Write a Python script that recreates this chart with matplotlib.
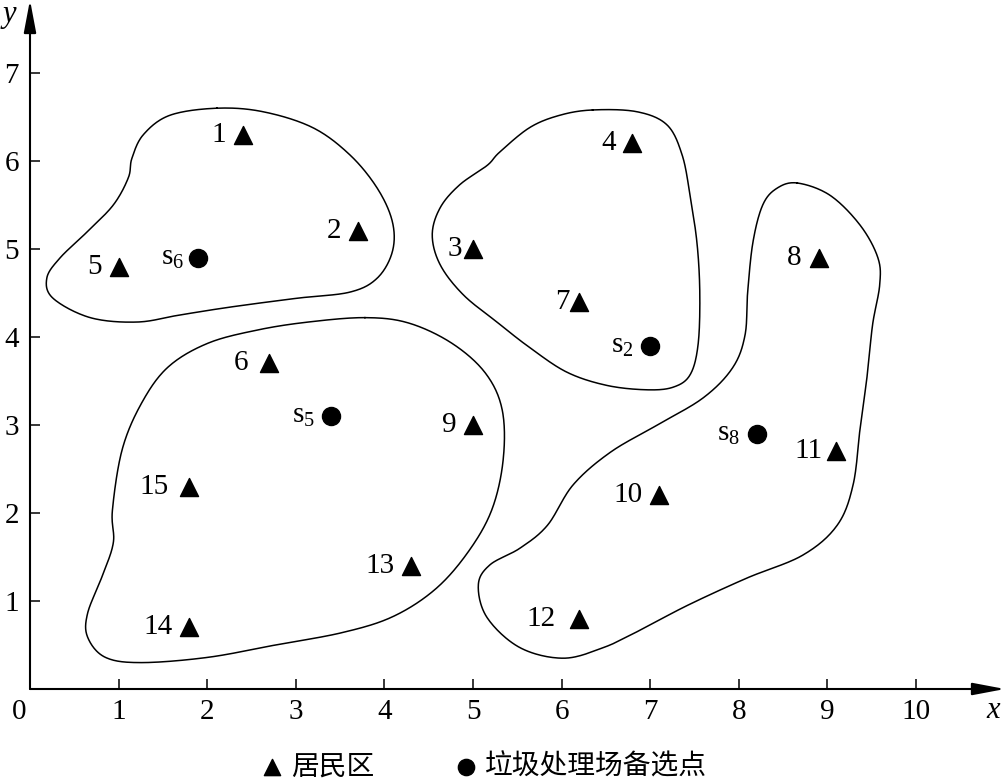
import numpy as np
import matplotlib
matplotlib.use('Agg')
import matplotlib.pyplot as plt

plt.rcParams['font.family'] = ['Liberation Serif', 'Noto Sans CJK SC', 'DejaVu Sans']
plt.rcParams['mathtext.fontset'] = 'custom'
plt.rcParams['mathtext.rm'] = 'Liberation Serif'
plt.rcParams['mathtext.it'] = 'Liberation Serif:italic'

# 居民区
res_labels = ['1', '2', '3', '4', '5', '6', '7', '8', '9', '10', '11', '12', '13', '14', '15']
res_x = [2.4, 3.7, 5.0, 6.8, 1.0, 2.7, 6.2, 8.9, 5.0, 7.1, 9.1, 6.2, 4.3, 1.8, 1.8]
res_y = [6.3, 5.2, 5.0, 6.2, 4.8, 3.7, 4.4, 4.9, 3.0, 2.2, 2.7, 0.8, 1.4, 0.7, 2.3]

# 垃圾处理场备选点
site_labels = ['2', '5', '6', '8']
site_x = [7.0, 3.4, 1.9, 8.2]
site_y = [3.9, 3.1, 4.9, 2.9]

# 分区轮廓 (控制点)
zone_a_x = [2.11, 2.63, 3.19, 3.61, 3.92, 4.09, 4.09, 3.92, 3.61, 3.01, 2.26, 1.69,
            1.21, 0.68, 0.26, 0.19, 0.34, 0.64, 0.94, 1.11, 1.15, 1.28, 1.58]
zone_a_y = [6.60, 6.56, 6.38, 6.07, 5.69, 5.31, 4.97, 4.67, 4.51, 4.44, 4.34, 4.25,
            4.17, 4.22, 4.44, 4.67, 4.90, 5.19, 5.50, 5.81, 6.03, 6.30, 6.52]
zone_b_x = [6.35, 6.85, 7.19, 7.36, 7.45, 7.53, 7.56, 7.54, 7.45, 7.26, 6.96, 6.51,
            6.06, 5.64, 5.27, 4.89, 4.63, 4.54, 4.63, 4.85, 5.16, 5.30, 5.64, 5.98]
zone_b_y = [6.58, 6.56, 6.41, 6.07, 5.61, 5.05, 4.48, 3.91, 3.57, 3.43, 3.40, 3.45,
            3.60, 3.88, 4.17, 4.48, 4.82, 5.16, 5.47, 5.73, 5.95, 6.10, 6.38, 6.52]
zone_c_x = [8.66, 9.03, 9.37, 9.57, 9.59, 9.51, 9.45, 9.37, 9.29, 9.11, 8.72, 8.09,
            7.42, 6.85, 6.47, 6.02, 5.53, 5.16, 5.06, 5.19, 5.53, 5.84, 6.13, 6.55,
            7.08, 7.60, 7.93, 8.07, 8.10, 8.16, 8.27, 8.43]
zone_c_y = [5.75, 5.61, 5.27, 4.90, 4.59, 4.14, 3.57, 2.97, 2.32, 1.86, 1.52, 1.26,
            0.95, 0.65, 0.47, 0.35, 0.47, 0.81, 1.18, 1.41, 1.60, 1.86, 2.32, 2.69,
            3.00, 3.31, 3.65, 4.02, 4.51, 5.08, 5.50, 5.69]
zone_d_x = [3.78, 4.27, 4.76, 5.14, 5.33, 5.34, 5.21, 4.94, 4.57, 4.09, 3.52, 2.77,
            2.01, 1.26, 0.85, 0.65, 0.65, 0.81, 0.94, 0.93, 1.04, 1.26, 1.56, 2.01,
            2.57, 3.14]
zone_d_y = [4.22, 4.16, 3.93, 3.59, 3.17, 2.60, 2.03, 1.55, 1.13, 0.82, 0.64, 0.50,
            0.36, 0.30, 0.36, 0.59, 0.86, 1.27, 1.66, 2.03, 2.72, 3.25, 3.66, 3.93,
            4.08, 4.17]

x_ticks = [1, 2, 3, 4, 5, 6, 7, 8, 9, 10]
y_ticks = [1, 2, 3, 4, 5, 6, 7]


# 闭合 Catmull-Rom 曲线
def closed_curve(xs, ys, n=24):
    P = np.column_stack([xs, ys])
    m = len(P)
    t = np.linspace(0, 1, n, endpoint=False)[:, None]
    segs = []
    for i in range(m):
        p0, p1, p2, p3 = P[i - 1], P[i], P[(i + 1) % m], P[(i + 2) % m]
        segs.append(0.5 * (2 * p1 + (-p0 + p2) * t
                           + (2 * p0 - 5 * p1 + 4 * p2 - p3) * t ** 2
                           + (-p0 + 3 * p1 - 3 * p2 + p3) * t ** 3))
    pts = np.vstack(segs + [segs[0][:1]])
    return pts[:, 0], pts[:, 1]


fig = plt.figure(figsize=(10.07, 7.84), dpi=100)
ax = fig.add_axes([30 / 1007, 1 - 689 / 784, 975 / 1007, 689 / 784])
ax.set_xlim(0, 975 / 88.6)
ax.set_ylim(0, 689 / 88)

for zx, zy in [(zone_a_x, zone_a_y), (zone_b_x, zone_b_y),
               (zone_c_x, zone_c_y), (zone_d_x, zone_d_y)]:
    cx, cy = closed_curve(zx, zy)
    ax.plot(cx, cy, color='black', lw=1.1)

tri = ax.scatter(res_x, res_y, marker='^', s=13 ** 2, color='black', zorder=3,
                 label='居民区')
dot = ax.scatter(site_x, site_y, marker='o', s=13 ** 2, color='black', zorder=3,
                 label='垃圾处理场备选点')

# 标注 (右对齐于标记左侧)
gap = {'3': 8, '7': 7, '12': 17, '6': 15, '15': 15, '11': 10}
for lab, x, y in zip(res_labels, res_x, res_y):
    ax.annotate(lab, (x, y), xytext=(-gap.get(lab, 12), 0), textcoords='offset points',
                ha='right', va='center', fontsize=21)
for lab, x, y in zip(site_labels, site_x, site_y):
    ax.annotate(r'$\mathregular{s_{%s}}$' % lab, (x, y),
                xytext=(-10 if lab == '6' else -12, 0), textcoords='offset points',
                ha='right', va='center', fontsize=21)

# 坐标轴
for s in ax.spines.values():
    s.set_visible(False)
arrow = dict(arrowstyle='-|>,head_length=0.9,head_width=0.17', lw=1.5,
             color='black', mutation_scale=22, shrinkA=0, shrinkB=0)
ax.annotate('', xy=(ax.get_xlim()[1], 0), xytext=(0, 0), arrowprops=arrow,
            annotation_clip=False)
ax.annotate('', xy=(0, ax.get_ylim()[1]), xytext=(0, 0), arrowprops=arrow,
            annotation_clip=False)

ax.set_xticks(x_ticks)
ax.set_yticks(y_ticks)
ax.tick_params(direction='in', length=7, width=1.1, labelsize=21, pad=7)
ax.tick_params(axis='y', pad=8)
ax.annotate('0', (0, 0), xytext=(-8, -7), textcoords='offset points',
            ha='center', va='top', fontsize=21, annotation_clip=False)
ax.text(10.87, -0.24, 'x', style='italic', fontsize=22, ha='center', va='center',
        clip_on=False)
ax.text(-0.23, 7.67, 'y', style='italic', fontsize=22, ha='center', va='center',
        clip_on=False)

fig.legend(handles=[tri, dot], loc='center', bbox_to_anchor=(0.482, 0.021),
           ncol=2, frameon=False, fontsize=20, handlelength=0.6, handletextpad=0.4,
           columnspacing=3.0, borderpad=0, borderaxespad=0, markerscale=0.9)

fig.savefig('out.png', dpi=100)
